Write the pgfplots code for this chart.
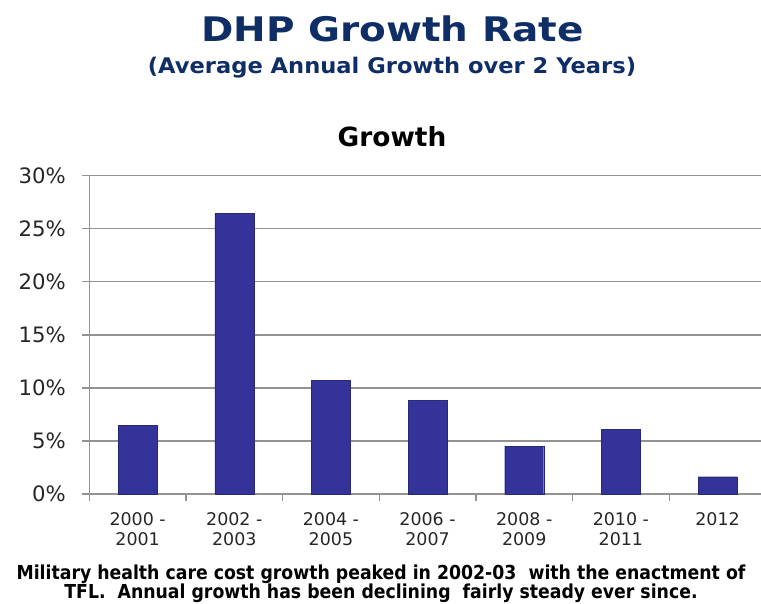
\documentclass[border=0pt]{standalone}
\usepackage{fontspec}
\setmainfont{DejaVu Sans}
\newfontfamily\condfont{DejaVu Sans Condensed}
\newfontfamily\titlefont{DejaVu Sans}[FakeStretch=1.15]
\newfontfamily\subfont{DejaVu Sans}[FakeStretch=1.05]
\usepackage{pgfplots}
\pgfplotsset{compat=1.18}
\definecolor{navy}{HTML}{0F2E66}
\definecolor{barblue}{HTML}{333399}
\definecolor{gridgray}{HTML}{939393}
\begin{document}
\begin{tikzpicture}[x=1bp,y=1bp]
\useasboundingbox (0,0) rectangle (761,604);
\node[anchor=base, font=\titlefont\bfseries\fontsize{34}{40}\selectfont, text=navy, inner sep=0] at (392.5,562.3) {DHP Growth Rate};
\node[anchor=base, font=\subfont\bfseries\fontsize{21.6}{26}\selectfont, text=navy, inner sep=0] at (392,530) {(Average Annual Growth over 2 Years)};
\node[anchor=base, font=\bfseries\fontsize{26.5}{32}\selectfont, text=black, inner sep=0] at (392,457.3) {Growth};
\node[anchor=base, font=\condfont\bfseries\fontsize{19.3}{24}\selectfont, text=black, inner sep=0] at (381,24.5) {Military health care cost growth peaked in 2002-03\ \ with the enactment of};
\node[anchor=base, font=\condfont\bfseries\fontsize{19.3}{24}\selectfont, text=black, inner sep=0] at (381,5) {TFL.\ \ Annual growth has been declining\ \ fairly steady ever since.};
\begin{axis}[
  at={(89.3bp,110bp)}, anchor=south west,
  scale only axis, width=671.7bp, height=318.3bp,
  ybar, bar width=39bp,
  xmin=-0.5, xmax=6.45, ymin=0, ymax=30,
  axis x line*=bottom, axis y line*=left,
  axis line style={gridgray, line width=1.4pt},
  ytick={0,5,10,15,20,25,30},
  yticklabels={0\%,5\%,10\%,15\%,20\%,25\%,30\%},
  yticklabel style={font=\fontsize{21.3}{24}\selectfont, text=black!85, xshift=-13bp},
  ymajorgrids, grid style={gridgray, line width=1.4pt},
  tick style={gridgray, line width=1.4pt},
  tick align=outside, major tick length=7bp,
  xtick={-0.5,0.5,1.5,2.5,3.5,4.5,5.5},
  xticklabels={,,,,,,},
  extra x ticks={0,1,2,3,4,5,6},
  extra x tick labels={{2000 -\\2001},{2002 -\\2003},{2004 -\\2005},{2006 -\\2007},{2008 -\\2009},{2010 -\\2011},{2012}},
  extra x tick style={major tick length=0pt, grid=none},
  xticklabel style={font=\fontsize{17.5}{20}\selectfont, align=center, text=black!85, anchor=north, yshift=-15bp},
  clip=false,
]
\addplot[fill=barblue, draw=barblue!80!black] coordinates {(0,6.45) (1,26.45) (2,10.7) (3,8.8) (4,4.5) (5,6.1) (6,1.63)};
\end{axis}
\end{tikzpicture}
\end{document}
